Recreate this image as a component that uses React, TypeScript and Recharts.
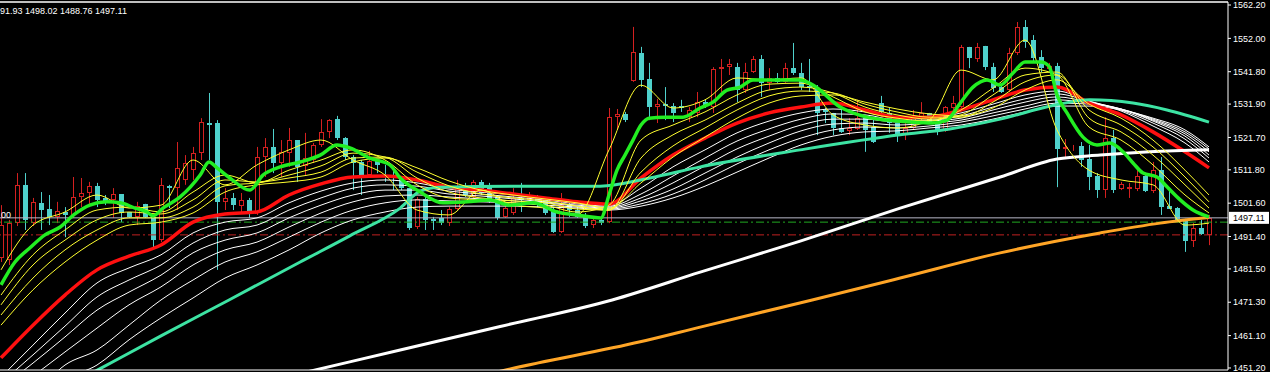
import React from "react";
import { ComposedChart, Bar, Line, XAxis, YAxis, ReferenceLine } from "recharts";

const FONT = "'Liberation Sans', Arial, sans-serif";

// ---- candles (index 0 = leftmost visible bar) ----
const OPEN = [
  1484.8, 1484.2, 1495.5, 1507.2, 1495.5, 1501.7, 1499.8, 1497.4, 1498.9, 1498.0,
  1503.5, 1504.7, 1506.8, 1503.2, 1502.6, 1504.4, 1498.9, 1497.4, 1501.4, 1497.4,
  1490.3, 1506.8, 1506.2, 1508.7, 1511.7, 1517.0, 1526.1, 1526.1, 1502.0, 1503.2,
  1500.7, 1502.6, 1498.6, 1515.7, 1518.8, 1513.9, 1517.0, 1520.9, 1513.0, 1514.8,
  1519.4, 1523.4, 1527.3, 1521.5, 1515.7, 1514.2, 1510.2, 1514.5, 1510.2, 1510.2,
  1509.3, 1506.2, 1494.3, 1502.9, 1496.8, 1497.1, 1495.5, 1499.8, 1506.2, 1503.5,
  1508.1, 1507.2, 1503.5, 1497.4, 1498.6, 1503.2, 1502.6, 1503.5, 1502.6, 1499.5,
  1492.8, 1501.0, 1499.5, 1498.0, 1494.9, 1496.5, 1495.8, 1527.9, 1528.9, 1539.0,
  1547.5, 1539.6, 1531.0, 1531.9, 1531.3, 1531.3, 1527.9, 1529.2, 1532.5, 1531.0,
  1542.6, 1543.2, 1543.2, 1536.2, 1541.7, 1545.7, 1538.4, 1539.9, 1538.7, 1542.9,
  1541.4, 1537.4, 1536.8, 1530.1, 1529.2, 1524.6, 1523.7, 1524.3, 1527.6, 1524.9,
  1532.2, 1529.2, 1526.1, 1522.4, 1524.6, 1527.9, 1529.2, 1526.4, 1523.7, 1530.7,
  1531.0, 1549.4, 1545.7, 1549.7, 1543.2, 1537.1, 1536.2, 1547.5, 1555.5, 1551.5,
  1546.3, 1542.6, 1543.5, 1518.2, 1518.5, 1519.1, 1515.1, 1509.9, 1505.6, 1521.5,
  1505.9, 1505.9, 1505.9, 1509.9, 1505.3, 1511.7, 1500.7, 1500.1, 1496.8, 1490.0,
  1494.0, 1491.93,
];
const HIGH = [
  1501.0, 1496.5, 1510.8, 1510.8, 1503.2, 1505.0, 1504.1, 1502.0, 1500.4, 1509.6,
  1509.3, 1508.1, 1507.8, 1504.1, 1506.2, 1504.4, 1498.9, 1502.0, 1501.4, 1497.4,
  1509.3, 1507.2, 1520.3, 1516.3, 1518.8, 1527.6, 1535.3, 1527.0, 1506.2, 1504.7,
  1504.7, 1503.2, 1518.8, 1521.5, 1524.3, 1520.9, 1524.6, 1520.9, 1523.1, 1520.0,
  1527.3, 1527.3, 1528.3, 1521.8, 1516.3, 1514.8, 1517.6, 1514.8, 1513.3, 1512.7,
  1509.6, 1506.2, 1503.5, 1503.5, 1497.4, 1499.5, 1500.4, 1508.7, 1507.8, 1508.7,
  1508.7, 1507.8, 1504.1, 1501.0, 1506.2, 1507.8, 1505.0, 1504.1, 1503.2, 1500.4,
  1504.7, 1501.7, 1500.4, 1498.6, 1497.4, 1497.1, 1530.7, 1530.4, 1529.5, 1555.5,
  1549.4, 1544.5, 1533.5, 1537.1, 1532.2, 1533.2, 1531.0, 1535.6, 1533.2, 1543.2,
  1545.7, 1545.7, 1544.5, 1544.5, 1546.6, 1546.9, 1542.9, 1541.4, 1544.5, 1550.6,
  1544.5, 1545.7, 1537.7, 1530.7, 1529.2, 1530.7, 1527.6, 1533.2, 1527.6, 1527.9,
  1534.4, 1530.7, 1526.1, 1526.1, 1530.1, 1532.5, 1529.2, 1526.4, 1531.3, 1534.4,
  1550.0, 1549.4, 1550.6, 1549.7, 1544.5, 1537.7, 1549.1, 1557.0, 1557.6, 1553.0,
  1548.4, 1544.5, 1544.5, 1521.2, 1519.4, 1520.3, 1519.4, 1510.8, 1527.9, 1524.0,
  1508.1, 1507.8, 1512.7, 1510.8, 1514.2, 1515.7, 1506.2, 1500.4, 1496.8, 1495.5,
  1496.5, 1498.02,
];
const LOW = [
  1483.6, 1482.7, 1494.6, 1493.4, 1494.6, 1493.4, 1494.9, 1495.5, 1491.2, 1497.1,
  1500.4, 1500.4, 1500.4, 1501.0, 1497.1, 1495.8, 1497.1, 1494.9, 1497.1, 1487.9,
  1489.7, 1500.1, 1499.5, 1507.2, 1508.7, 1514.8, 1514.8, 1481.2, 1499.5, 1499.5,
  1498.6, 1497.1, 1498.0, 1509.6, 1510.8, 1509.6, 1512.7, 1508.1, 1510.2, 1513.9,
  1518.8, 1521.5, 1520.9, 1514.8, 1505.6, 1504.1, 1509.6, 1510.8, 1508.1, 1505.6,
  1505.6, 1493.4, 1493.7, 1493.4, 1493.4, 1494.9, 1494.6, 1499.5, 1503.5, 1503.2,
  1504.1, 1501.7, 1496.5, 1497.1, 1498.0, 1498.9, 1502.0, 1500.4, 1498.0, 1492.5,
  1492.5, 1497.4, 1497.1, 1494.0, 1494.0, 1494.9, 1495.5, 1524.0, 1526.4, 1538.7,
  1537.1, 1527.0, 1526.1, 1527.0, 1526.4, 1529.5, 1526.4, 1527.9, 1530.7, 1529.2,
  1535.6, 1540.8, 1532.5, 1535.3, 1541.4, 1534.1, 1536.2, 1538.4, 1538.4, 1540.8,
  1536.2, 1535.6, 1522.4, 1526.1, 1522.4, 1523.1, 1522.4, 1524.0, 1517.3, 1520.0,
  1528.6, 1523.1, 1520.3, 1520.9, 1524.0, 1527.0, 1526.1, 1522.4, 1523.4, 1530.1,
  1530.7, 1542.9, 1544.8, 1542.3, 1535.6, 1535.3, 1535.6, 1546.9, 1549.1, 1544.8,
  1541.7, 1541.7, 1506.5, 1515.7, 1517.6, 1512.7, 1505.6, 1503.2, 1503.2, 1504.7,
  1505.6, 1503.2, 1505.3, 1505.0, 1504.7, 1498.0, 1499.8, 1495.8, 1486.7, 1488.2,
  1491.9, 1488.76,
];
const CLOSE = [
  1494.9, 1495.5, 1507.2, 1496.5, 1502.0, 1499.5, 1497.4, 1499.2, 1498.0, 1503.5,
  1504.7, 1506.8, 1502.6, 1502.0, 1504.4, 1498.6, 1497.4, 1500.7, 1497.4, 1490.3,
  1507.2, 1506.2, 1512.4, 1513.9, 1517.0, 1526.4, 1525.5, 1502.0, 1503.2, 1501.0,
  1502.6, 1498.6, 1515.7, 1518.8, 1513.9, 1517.3, 1520.9, 1512.7, 1515.4, 1519.4,
  1523.4, 1527.0, 1521.5, 1515.7, 1513.9, 1509.6, 1514.5, 1513.3, 1509.6, 1509.3,
  1506.2, 1494.0, 1502.9, 1496.5, 1496.2, 1495.5, 1499.8, 1506.2, 1504.1, 1508.1,
  1504.7, 1502.0, 1497.1, 1500.1, 1503.2, 1502.6, 1503.5, 1501.7, 1498.6, 1492.8,
  1501.0, 1499.5, 1497.4, 1494.6, 1496.5, 1495.5, 1527.9, 1528.9, 1527.0, 1547.8,
  1539.3, 1531.0, 1531.9, 1531.3, 1529.2, 1530.7, 1530.1, 1532.5, 1531.3, 1542.6,
  1543.2, 1544.2, 1536.2, 1541.7, 1545.7, 1538.4, 1539.9, 1538.7, 1542.9, 1541.4,
  1537.1, 1536.8, 1529.2, 1529.5, 1524.6, 1523.4, 1524.6, 1527.6, 1524.0, 1520.3,
  1529.5, 1526.1, 1522.4, 1524.6, 1527.6, 1529.2, 1526.4, 1524.0, 1531.0, 1532.2,
  1549.4, 1546.0, 1549.4, 1543.2, 1536.8, 1535.6, 1547.5, 1555.5, 1550.9, 1546.0,
  1542.9, 1543.5, 1518.2, 1518.8, 1518.8, 1514.8, 1509.6, 1505.6, 1521.5, 1505.6,
  1507.5, 1506.5, 1509.9, 1505.3, 1511.7, 1500.4, 1499.8, 1496.5, 1490.0, 1494.0,
  1492.2, 1497.11,
];

// ---- moving-average fans, read at sample bars ----
const SAMPLE_AT = [
  0, 4, 8, 12, 16, 20, 24, 28, 32, 36, 40, 44, 48, 52, 56, 60, 64, 68, 72, 76,
  80, 84, 88, 92, 96, 100, 104, 108, 112, 116, 120, 124, 128, 132, 136, 140, 144, 148, 151,
];
const YELLOW_1 = [1481.2,1494.9,1498.9,1504.1,1500.1,1501.0,1514.8,1507.2,1513.3,1517.9,1520.9,1514.8,1510.2,1499.5,1498.0,1505.6,1501.0,1500.1,1498.0,1517.9,1537.7,1530.7,1533.2,1539.9,1539.3,1539.9,1528.6,1525.5,1524.6,1527.0,1542.3,1539.3,1551.5,1524.0,1511.7,1508.7,1507.2,1494.9,1495.5];
const YELLOW_2 = [1473.5,1485.8,1493.4,1499.5,1500.4,1498.9,1505.0,1510.2,1507.8,1511.7,1514.8,1517.9,1514.8,1507.2,1503.2,1502.6,1501.7,1501.0,1498.9,1501.0,1520.9,1525.5,1529.5,1534.7,1538.0,1538.3,1534.1,1529.5,1527.6,1526.7,1530.1,1536.8,1542.9,1540.8,1524.9,1520.9,1513.3,1504.1,1498.6];
const YELLOW_3 = [1470.5,1482.7,1490.3,1496.5,1498.9,1498.3,1502.6,1508.7,1508.1,1510.2,1513.0,1516.9,1515.7,1509.3,1505.0,1503.2,1502.3,1501.7,1499.8,1499.5,1515.4,1522.5,1527.0,1532.2,1536.2,1537.1,1535.3,1531.0,1528.6,1527.3,1528.6,1534.7,1540.8,1541.7,1527.6,1523.4,1516.3,1507.2,1500.1];
const YELLOW_4 = [1467.4,1478.7,1487.3,1493.4,1497.1,1497.1,1500.4,1506.9,1507.8,1509.3,1511.1,1515.4,1515.7,1511.1,1506.9,1504.4,1503.2,1502.3,1500.7,1499.5,1511.1,1519.1,1524.6,1530.1,1534.4,1535.9,1535.3,1531.9,1529.5,1527.9,1527.9,1532.5,1538.7,1540.8,1530.1,1525.5,1518.8,1509.6,1502.0];
const YELLOW_5 = [1464.3,1475.1,1483.6,1490.3,1494.9,1495.8,1498.6,1505.0,1507.2,1508.1,1509.6,1514.2,1515.4,1512.4,1508.4,1505.6,1504.1,1502.9,1501.7,1500.1,1507.8,1515.7,1521.8,1527.6,1532.2,1534.4,1534.7,1532.5,1530.4,1528.9,1528.3,1530.7,1536.2,1539.3,1531.9,1527.6,1520.9,1511.7,1504.1];
const RED_MA = [1454.3,1464.3,1473.5,1481.2,1485.4,1488.8,1495.8,1498.3,1498.9,1504.1,1507.5,1509.6,1509.9,1508.7,1506.5,1505.6,1504.4,1503.2,1502.0,1501.3,1509.3,1516.3,1521.5,1526.1,1529.2,1531.0,1532.2,1530.1,1527.9,1527.9,1530.1,1533.2,1536.2,1537.1,1532.2,1528.6,1523.4,1517.3,1512.4];
const WHITE_1 = [1448.4,1458.2,1468.0,1477.2,1481.8,1485.8,1492.5,1495.8,1497.1,1501.7,1505.3,1507.8,1508.7,1507.8,1505.9,1505.0,1504.1,1502.9,1501.7,1501.0,1506.2,1512.7,1517.9,1523.1,1526.7,1529.2,1530.4,1529.5,1527.6,1527.6,1529.2,1531.9,1534.7,1535.9,1532.8,1529.8,1525.2,1520.0,1514.2];
const WHITE_2 = [1446.6,1455.2,1464.0,1472.9,1478.1,1482.7,1489.4,1493.4,1494.9,1499.5,1503.2,1506.2,1507.2,1506.8,1505.3,1504.4,1503.5,1502.6,1501.4,1500.7,1504.4,1509.9,1515.4,1520.6,1524.3,1527.3,1528.9,1528.6,1527.0,1527.0,1528.3,1531.0,1533.5,1535.0,1532.8,1530.1,1526.1,1521.2,1515.4];
const WHITE_3 = [1445.1,1452.7,1460.7,1468.9,1474.4,1479.6,1486.4,1490.3,1492.5,1497.1,1501.0,1504.1,1505.6,1505.6,1504.4,1503.8,1502.9,1502.0,1501.0,1500.4,1503.2,1507.8,1513.0,1518.2,1522.1,1525.5,1527.3,1527.3,1526.4,1526.7,1527.6,1530.1,1532.5,1534.1,1532.5,1530.4,1526.7,1522.1,1516.3];
const WHITE_4 = [1441.4,1448.7,1456.1,1463.4,1470.5,1476.0,1482.7,1487.3,1489.7,1494.3,1498.6,1502.0,1503.8,1504.1,1503.5,1502.9,1502.3,1501.7,1500.7,1500.1,1502.3,1505.9,1510.8,1515.7,1520.0,1523.7,1525.8,1526.1,1525.5,1526.1,1527.0,1529.2,1531.3,1533.2,1532.2,1530.4,1527.0,1522.8,1517.3];
const WHITE_5 = [1436.8,1442.9,1452.1,1456.7,1464.3,1472.0,1478.1,1483.6,1486.7,1491.2,1495.8,1499.5,1501.7,1502.6,1502.3,1502.0,1501.7,1501.0,1500.4,1499.8,1501.4,1504.4,1508.7,1513.6,1517.9,1521.5,1524.0,1524.9,1524.6,1525.2,1526.4,1528.3,1530.4,1532.2,1531.9,1530.4,1527.3,1523.4,1518.2];
const WHITE_6 = [1432.2,1438.3,1447.5,1452.1,1459.8,1466.5,1472.6,1478.7,1482.7,1487.3,1492.5,1496.5,1498.9,1500.4,1500.7,1500.7,1500.7,1500.4,1500.1,1499.5,1500.7,1503.2,1506.8,1511.1,1515.4,1519.4,1522.1,1523.4,1523.7,1524.6,1525.5,1527.3,1529.5,1531.3,1531.3,1530.1,1527.6,1524.0,1518.8];

// fast green line, read at its own bar positions
const GREEN_AT = [0,1.75,3.6,5.5,7.4,9.25,11.1,13.25,14.9,16.75,18.25,19,20.25,22.4,24.9,26,27,28.6,31.1,32.75,34.9,37.4,39.9,42,43.6,46.1,48.6,49.9,52.4,55.25,58.25,61.1,63.6,66.5,69.5,72,75,76,77,78,79,80,81,83,85.25,87.4,89,90.75,92.4,94,95.75,98.25,99.9,101.5,104.9,108.25,110.75,113.6,116.5,118.25,119.9,121.5,123.25,124.9,126.5,128,130,131,132,133.25,135.25,137,138.6,140.25,141.5,142.75,144.5,145.75,147.4,149,151];
const GREEN_MA = [1476.6,1483.6,1487.9,1491.9,1494.3,1498.3,1501.0,1502.0,1501.7,1500.1,1498.9,1497.7,1500.1,1503.5,1510.2,1514.2,1512.4,1509.3,1505.6,1510.2,1512.7,1514.2,1516.3,1519.4,1518.5,1515.4,1513.3,1509.3,1505.0,1501.7,1502.0,1502.6,1501.0,1501.7,1498.9,1498.0,1497.1,1504.1,1511.7,1516.3,1520.9,1525.5,1527.6,1527.9,1527.9,1530.7,1532.5,1536.2,1537.1,1539.3,1539.3,1539.3,1539.3,1537.7,1531.0,1527.9,1527.0,1526.4,1526.1,1527.0,1532.2,1537.1,1539.3,1537.7,1541.4,1544.8,1544.8,1543.5,1534.7,1529.2,1521.8,1519.4,1520.0,1517.3,1513.9,1510.8,1509.6,1506.6,1502.6,1499.5,1497.4];

const TEAL_AT = [0,12.1,20,28.5,37.4,43.6,49.9,52.4,54.9,64.9,74.9,81.1,87.4,99.9,112.4,118.6,124.9,131.75,136.1,141.5,145.75,151];
const TEAL_MA = [1434.7,1450.6,1461.0,1472.0,1483.6,1491.6,1500.1,1505.3,1506.5,1506.8,1506.8,1509.3,1512.7,1517.9,1522.5,1524.3,1527.3,1531.6,1533.2,1532.2,1530.1,1526.4];
const SLOW_WHITE_AT = [37.4,49.9,62.4,76.4,87.4,99.9,112.4,124.9,132,137.4,143.6,151];
const SLOW_WHITE_MA = [1449.5,1456.7,1463.9,1472.0,1480.5,1490.0,1500.1,1509.6,1515.1,1516.3,1517.3,1517.9];
const ORANGE_AT = [49.9,63.1,79.9,87.4,101.4,112.4,124.9,137.4,144.9,151];
const ORANGE_MA = [1442.3,1450.6,1459.2,1463.7,1472.0,1478.7,1486.4,1492.5,1495.5,1497.2];

// ---- levels / axes ----
const GREEN_LEVEL = 1495.8;
const RED_LEVEL = 1491.9;
const Y_TICKS = [1562.2, 1552.0, 1541.8, 1531.9, 1521.7, 1511.8, 1501.6, 1491.4, 1481.5, 1471.3, 1461.1, 1451.2];
const X_TICKS = [5, 13, 21, 29, 37, 45, 53, 61, 69, 77, 85, 93, 101, 109, 117, 125, 133, 141, 149];
const Y_DOMAIN = [1450.58, 1563.12];
const X_DOMAIN = [-0.125, 153.375];

const BULL = "#d42020";
const BEAR = "#4fd1cc";

const candles = OPEN.map((o, i) => ({ i, o, h: HIGH[i], l: LOW[i], c: CLOSE[i] }));
const series = (xs: number[], vs: number[]) => xs.map((i, k) => ({ i, v: vs[k] }));
const LAST = candles[candles.length - 1];

const Candle = (props: any) => {
  const { x, y, width, height, payload } = props;
  if (!payload || x == null) return null;
  const { o, h, l, c } = payload;
  const up = c >= o;
  const top0 = Math.min(y, y + height);
  const hh = Math.abs(height);
  const cx = Math.round(x + width / 2);
  const k = h > l ? hh / (h - l) : 0;
  const py = (v: number) => top0 + (h - v) * k;
  const top = Math.round(py(Math.max(o, c)));
  const bot = Math.round(py(Math.min(o, c)));
  const col = up ? BULL : BEAR;
  return (
    <g>
      <line x1={cx + 0.5} x2={cx + 0.5} y1={top0} y2={top0 + hh} stroke={col} strokeWidth={1} />
      {up ? (
        <rect x={cx - 1.5} y={top + 0.5} width={4} height={Math.max(bot - top - 1, 0)} fill="#000" stroke={col} strokeWidth={1} />
      ) : (
        <rect x={cx - 2} y={top} width={5} height={Math.max(bot - top, 1)} fill={col} />
      )}
    </g>
  );
};

const PriceTag = (props: any) => {
  const vb = props.viewBox || {};
  const yy = vb.y ?? 0;
  const right = (vb.x ?? 0) + (vb.width ?? 0);
  return (
    <g>
      <text x={1} y={yy} fill="#fff" fontSize={9} fontFamily={FONT}>00</text>
      <rect x={right + 1} y={yy - 6} width={40} height={12} fill="#fff" />
      <text x={right + 5} y={yy + 3.5} fill="#000" fontSize={9} fontFamily={FONT}>{LAST.c.toFixed(2)}</text>
    </g>
  );
};

// the OHLC line of the last bar, whose left part is cut off by the window edge in the original
const TopText = () => (
  <text x={0} y={14} fill="#fff" fontSize={9} fontFamily={FONT}>
    {`${LAST.o.toFixed(2).slice(2)} ${LAST.h.toFixed(2)} ${LAST.l.toFixed(2)} ${LAST.c.toFixed(2)}`}
  </text>
);

const thin = (data: any[], color: string, key: string) => (
  <Line key={key} data={data} dataKey="v" type="monotone" stroke={color} strokeWidth={1} dot={false} activeDot={false} isAnimationActive={false} />
);

export default function App() {
  return (
    <div style={{ position: "absolute", left: 0, top: 0, width: 1270, height: 372, background: "#000", overflow: "hidden" }}>
      <ComposedChart width={1270} height={372} data={candles} margin={{ top: 2, right: 0, bottom: 0, left: 0 }}>
        <XAxis
          dataKey="i"
          type="number"
          domain={X_DOMAIN}
          allowDataOverflow
          ticks={X_TICKS}
          tick={false}
          tickLine={{ stroke: "#fff" }}
          tickSize={3}
          axisLine={{ stroke: "#fff" }}
          height={2}
        />
        <YAxis
          orientation="right"
          type="number"
          domain={Y_DOMAIN}
          allowDataOverflow
          ticks={Y_TICKS}
          interval={0}
          width={42}
          tickSize={3}
          tickLine={{ stroke: "#fff" }}
          axisLine={{ stroke: "#fff" }}
          tickFormatter={(v: number) => v.toFixed(2)}
          tick={{ fill: "#fff", fontSize: 9, fontFamily: FONT }}
        />
        <ReferenceLine y={Y_DOMAIN[1]} stroke="#fff" strokeWidth={1.5} label={<TopText />} />
        <ReferenceLine y={GREEN_LEVEL} stroke="#21a821" strokeDasharray="8 3 2 3" />
        <ReferenceLine y={RED_LEVEL} stroke="#c02020" strokeDasharray="8 3 2 3" />
        <ReferenceLine y={LAST.c} stroke="#b8b8c8" label={<PriceTag />} />
        <Bar dataKey={(d: any) => [d.l, d.h]} barSize={5} shape={<Candle />} isAnimationActive={false} />
        {thin(series(SAMPLE_AT, WHITE_6), "#ffffff", "w6")}
        {thin(series(SAMPLE_AT, WHITE_5), "#ffffff", "w5")}
        {thin(series(SAMPLE_AT, WHITE_4), "#ffffff", "w4")}
        {thin(series(SAMPLE_AT, WHITE_3), "#ffffff", "w3")}
        {thin(series(SAMPLE_AT, WHITE_2), "#ffffff", "w2")}
        {thin(series(SAMPLE_AT, WHITE_1), "#ffffff", "w1")}
        <Line data={series(SAMPLE_AT, RED_MA)} dataKey="v" type="monotone" stroke="#ff1010" strokeWidth={3.5} dot={false} activeDot={false} isAnimationActive={false} />
        <Line data={series(TEAL_AT, TEAL_MA)} dataKey="v" type="monotone" stroke="#3de3a3" strokeWidth={3} dot={false} activeDot={false} isAnimationActive={false} />
        <Line data={series(SLOW_WHITE_AT, SLOW_WHITE_MA)} dataKey="v" type="monotone" stroke="#ffffff" strokeWidth={3} dot={false} activeDot={false} isAnimationActive={false} />
        <Line data={series(ORANGE_AT, ORANGE_MA)} dataKey="v" type="monotone" stroke="#ffa526" strokeWidth={3} dot={false} activeDot={false} isAnimationActive={false} />
        {thin(series(SAMPLE_AT, YELLOW_5), "#ffff30", "y5")}
        {thin(series(SAMPLE_AT, YELLOW_4), "#ffff30", "y4")}
        {thin(series(SAMPLE_AT, YELLOW_3), "#ffff30", "y3")}
        {thin(series(SAMPLE_AT, YELLOW_2), "#ffff30", "y2")}
        {thin(series(SAMPLE_AT, YELLOW_1), "#ffff30", "y1")}
        <Line data={series(GREEN_AT, GREEN_MA)} dataKey="v" type="monotone" stroke="#22ee22" strokeWidth={3.5} dot={false} activeDot={false} isAnimationActive={false} />
      </ComposedChart>
    </div>
  );
}
